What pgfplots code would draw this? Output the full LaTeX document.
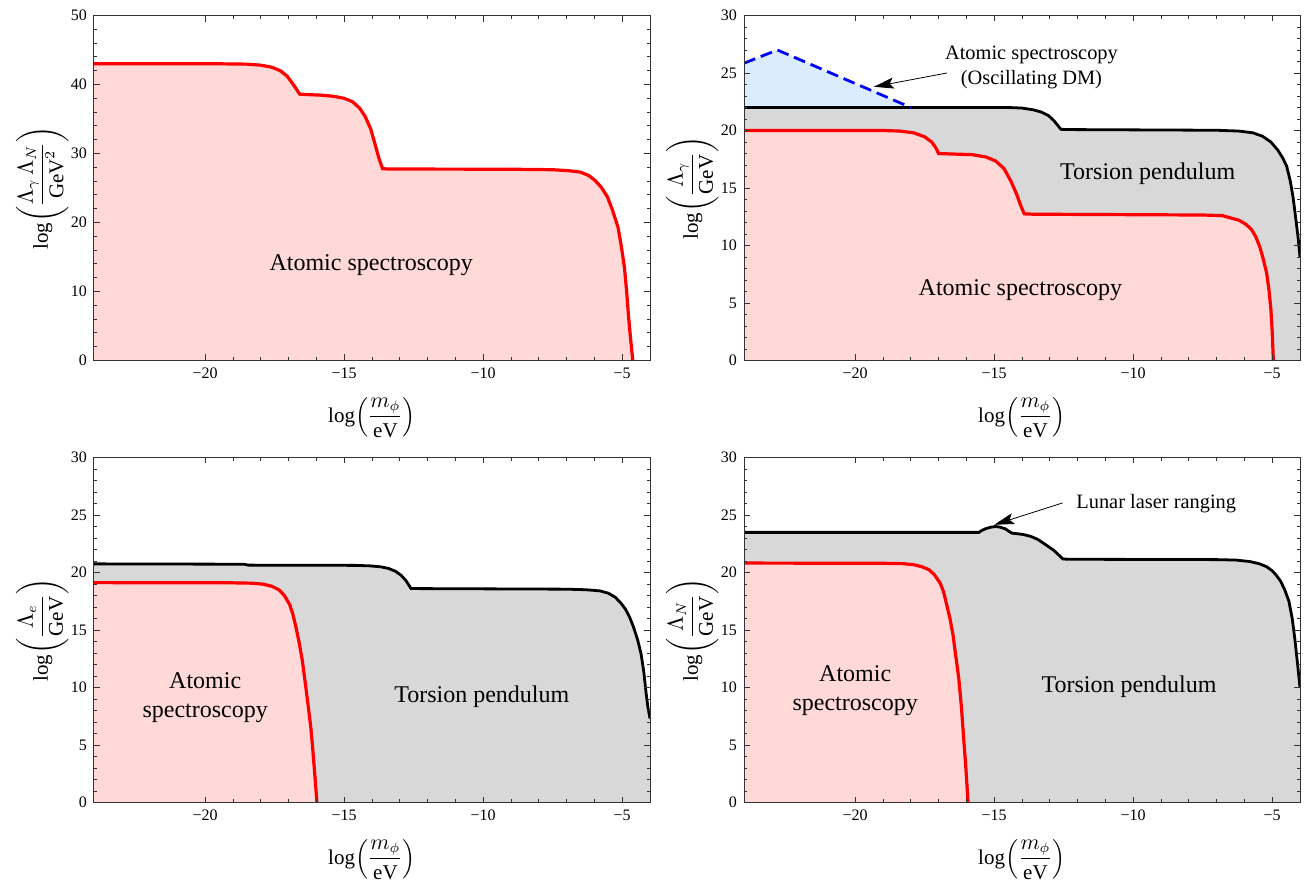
\documentclass[border=0pt]{standalone}
\usepackage{amsmath}
\usepackage{fontspec}
\setmainfont{Liberation Serif}
\usepackage{pgfplots}
\pgfplotsset{compat=1.18}
\usetikzlibrary{arrows.meta}

\definecolor{pinkfill}{RGB}{255,216,216}
\definecolor{grayfill}{RGB}{216,216,216}
\definecolor{bluefill}{RGB}{219,236,255}

\tikzset{
  big/.style={font=\fontsize{12}{14.4}\selectfont, align=center},
  small/.style={font=\fontsize{10.2}{12.6}\selectfont, align=center},
}

\pgfplotsset{
  panel/.style={
    scale only axis, width=278pt, height=172.5pt,
    anchor=south west,
    xmin=-24, xmax=-4, ymin=0,
    xtick={-20,-15,-10,-5}, xticklabels={−20,−15,−10,−5},
    minor x tick num=4, minor y tick num=4,
    tick align=inside, major tick length=3pt, minor tick length=1.6pt,
    tick style={black!80, line width=0.4pt},
    axis line style={black!80, line width=0.5pt},
    ticklabel style={font=\fontsize{8}{9}\selectfont},
    /pgf/number format/assume math mode=true,
    label style={font=\fontsize{10.5}{12}\selectfont, inner sep=0.5pt},
    xlabel={$\mathrm{log}\!\left(\dfrac{m_\phi}{\mathrm{eV}}\right)$},
    xlabel style={at={(axis description cs:0.5,-0.165)}, anchor=center},
    ylabel style={at={(axis description cs:-0.093,0.5)}, anchor=center},
    axis on top,
  },
  redline/.style={red, line width=1.6pt},
  blackline/.style={black, line width=1.4pt},
}

\begin{document}
\begin{tikzpicture}
\path[use as bounding box] (0,0) rectangle (652pt,441pt);

% top left
\begin{axis}[panel, at={(47pt,260.75pt)}, ymax=50, ytick={0,10,...,50},
  ylabel={$\mathrm{log}\!\left(\dfrac{\Lambda_\gamma\,\Lambda_N}{\mathrm{GeV}^2}\right)$}]
  \addplot[fill=pinkfill, draw=none] coordinates {
    (-24,43.0) (-19.5,43.0) (-18.5,42.95) (-18.0,42.8) (-17.6,42.5) (-17.3,42.0)
    (-17.05,41.2) (-16.85,40.1) (-16.7,39.2) (-16.6,38.6) (-16.4,38.55) (-15.8,38.45)
    (-15.4,38.3) (-15.0,38.0) (-14.7,37.5) (-14.45,36.6) (-14.25,35.4) (-14.05,33.6)
    (-13.9,31.5) (-13.75,29.3) (-13.62,27.8) (-13.4,27.75) (-9,27.72) (-7.5,27.65)
    (-6.9,27.5) (-6.5,27.3) (-6.2,26.8) (-5.98,26.1) (-5.75,25.1) (-5.53,23.7)
    (-5.35,21.8) (-5.15,19.3) (-5.03,16.5) (-4.92,13.5) (-4.84,10) (-4.77,6.3)
    (-4.7,3.2) (-4.62,0)} \closedcycle;
  \addplot[redline] coordinates {
    (-24,43.0) (-19.5,43.0) (-18.5,42.95) (-18.0,42.8) (-17.6,42.5) (-17.3,42.0)
    (-17.05,41.2) (-16.85,40.1) (-16.7,39.2) (-16.6,38.6) (-16.4,38.55) (-15.8,38.45)
    (-15.4,38.3) (-15.0,38.0) (-14.7,37.5) (-14.45,36.6) (-14.25,35.4) (-14.05,33.6)
    (-13.9,31.5) (-13.75,29.3) (-13.62,27.8) (-13.4,27.75) (-9,27.72) (-7.5,27.65)
    (-6.9,27.5) (-6.5,27.3) (-6.2,26.8) (-5.98,26.1) (-5.75,25.1) (-5.53,23.7)
    (-5.35,21.8) (-5.15,19.3) (-5.03,16.5) (-4.92,13.5) (-4.84,10) (-4.77,6.3)
    (-4.7,3.2) (-4.62,0)};
  \node[big] at (axis cs:-14.03,13.8) {Atomic spectroscopy};
\end{axis}

% top right
\begin{axis}[panel, at={(372pt,260.75pt)}, ymax=30, ytick={0,5,...,30},
  ylabel={$\mathrm{log}\!\left(\dfrac{\Lambda_\gamma}{\mathrm{GeV}}\right)$}]
  \addplot[fill=bluefill, draw=none] coordinates {
    (-24,25.85) (-22.8,27.0) (-18.0,22.0)} \closedcycle;
  \addplot[fill=grayfill, draw=none] coordinates {
    (-24,22.0) (-14.5,22.0) (-14.0,21.95) (-13.6,21.8) (-13.3,21.6) (-13.05,21.3)
    (-12.85,20.85) (-12.7,20.4) (-12.6,20.1) (-12.3,20.08) (-7,20.02) (-6.2,19.95)
    (-5.7,19.8) (-5.35,19.5) (-5.05,19.0) (-4.8,18.3) (-4.62,17.6) (-4.48,16.9)
    (-4.35,15.6) (-4.25,14.2) (-4.15,12.3) (-4.07,10.7) (-4.0,9.0)} \closedcycle;
  \addplot[fill=pinkfill, draw=none] coordinates {
    (-24,20.0) (-19,20.0) (-18.4,19.95) (-17.9,19.8) (-17.5,19.45) (-17.25,19.0)
    (-17.1,18.5) (-17.0,18.0) (-16.7,17.97) (-15.8,17.9) (-15.3,17.7) (-14.95,17.35)
    (-14.65,16.7) (-14.4,15.6) (-14.2,14.5) (-14.05,13.5) (-13.92,12.75) (-13.6,12.72)
    (-7.5,12.65) (-6.8,12.6) (-6.2,12.2) (-5.95,11.85) (-5.75,11.4) (-5.6,10.8)
    (-5.45,9.9) (-5.32,8.8) (-5.2,7.6) (-5.12,6.2) (-5.05,4.5) (-5.0,2.5) (-4.96,0)} \closedcycle;
  \addplot[blackline] coordinates {
    (-24,22.0) (-14.5,22.0) (-14.0,21.95) (-13.6,21.8) (-13.3,21.6) (-13.05,21.3)
    (-12.85,20.85) (-12.7,20.4) (-12.6,20.1) (-12.3,20.08) (-7,20.02) (-6.2,19.95)
    (-5.7,19.8) (-5.35,19.5) (-5.05,19.0) (-4.8,18.3) (-4.62,17.6) (-4.48,16.9)
    (-4.35,15.6) (-4.25,14.2) (-4.15,12.3) (-4.07,10.7) (-4.0,9.0)};
  \addplot[redline] coordinates {
    (-24,20.0) (-19,20.0) (-18.4,19.95) (-17.9,19.8) (-17.5,19.45) (-17.25,19.0)
    (-17.1,18.5) (-17.0,18.0) (-16.7,17.97) (-15.8,17.9) (-15.3,17.7) (-14.95,17.35)
    (-14.65,16.7) (-14.4,15.6) (-14.2,14.5) (-14.05,13.5) (-13.92,12.75) (-13.6,12.72)
    (-7.5,12.65) (-6.8,12.6) (-6.2,12.2) (-5.95,11.85) (-5.75,11.4) (-5.6,10.8)
    (-5.45,9.9) (-5.32,8.8) (-5.2,7.6) (-5.12,6.2) (-5.05,4.5) (-5.0,2.5) (-4.96,0)};
  \addplot[blue, line width=1.4pt, dash pattern=on 6pt off 3pt] coordinates {
    (-24,25.85) (-22.8,27.0) (-18.0,22.0)};
  \node[big] at (axis cs:-9.48,16.2) {Torsion pendulum};
  \node[big] at (axis cs:-14.06,6.15) {Atomic spectroscopy};
  \node[small] at (axis cs:-13.66,25.5) {Atomic spectroscopy\\(Oscillating DM)};
  \draw[-{Stealth[length=10pt,width=5.5pt,inset=2pt]}, line width=0.4pt]
    (axis cs:-16.7,25.0) -- (axis cs:-19.33,23.8);
\end{axis}

% bottom left
\begin{axis}[panel, at={(47pt,39.75pt)}, ymax=30, ytick={0,5,...,30},
  ylabel={$\mathrm{log}\!\left(\dfrac{\Lambda_e}{\mathrm{GeV}}\right)$}]
  \addplot[fill=grayfill, draw=none] coordinates {
    (-24,20.75) (-18.6,20.72) (-18.45,20.64) (-14.6,20.62) (-14.1,20.58) (-13.7,20.5)
    (-13.4,20.35) (-13.15,20.1) (-12.95,19.75) (-12.78,19.3) (-12.6,18.62) (-12.3,18.6)
    (-7,18.55) (-6.3,18.5) (-5.8,18.4) (-5.5,18.2) (-5.25,17.85) (-5.05,17.35)
    (-4.88,16.8) (-4.74,16.15) (-4.6,15.3) (-4.44,14.1) (-4.32,12.9) (-4.22,11.3)
    (-4.14,9.5) (-4.07,8.2) (-4.0,7.3)} \closedcycle;
  \addplot[fill=pinkfill, draw=none] coordinates {
    (-24,19.12) (-19,19.1) (-18.3,19.07) (-17.9,18.98) (-17.6,18.8) (-17.35,18.5)
    (-17.15,18.0) (-16.96,17.2) (-16.85,16.4) (-16.74,15.3) (-16.62,13.9) (-16.51,12.4)
    (-16.4,10.4) (-16.29,8.3) (-16.2,6.5) (-16.14,4.9) (-16.06,2.5) (-15.98,0)} \closedcycle;
  \addplot[blackline] coordinates {
    (-24,20.75) (-18.6,20.72) (-18.45,20.64) (-14.6,20.62) (-14.1,20.58) (-13.7,20.5)
    (-13.4,20.35) (-13.15,20.1) (-12.95,19.75) (-12.78,19.3) (-12.6,18.62) (-12.3,18.6)
    (-7,18.55) (-6.3,18.5) (-5.8,18.4) (-5.5,18.2) (-5.25,17.85) (-5.05,17.35)
    (-4.88,16.8) (-4.74,16.15) (-4.6,15.3) (-4.44,14.1) (-4.32,12.9) (-4.22,11.3)
    (-4.14,9.5) (-4.07,8.2) (-4.0,7.3)};
  \addplot[redline] coordinates {
    (-24,19.12) (-19,19.1) (-18.3,19.07) (-17.9,18.98) (-17.6,18.8) (-17.35,18.5)
    (-17.15,18.0) (-16.96,17.2) (-16.85,16.4) (-16.74,15.3) (-16.62,13.9) (-16.51,12.4)
    (-16.4,10.4) (-16.29,8.3) (-16.2,6.5) (-16.14,4.9) (-16.06,2.5) (-15.98,0)};
  \node[big] at (axis cs:-20,9.15) {Atomic\\spectroscopy};
  \node[big] at (axis cs:-10.05,9.2) {Torsion pendulum};
\end{axis}

% bottom right
\begin{axis}[panel, at={(372pt,39.75pt)}, ymax=30, ytick={0,5,...,30},
  ylabel={$\mathrm{log}\!\left(\dfrac{\Lambda_N}{\mathrm{GeV}}\right)$}]
  \addplot[fill=grayfill, draw=none] coordinates {
    (-24,23.49) (-15.55,23.49) (-15.45,23.65) (-15.3,23.82) (-15.1,23.95) (-14.95,24.0)
    (-14.8,23.95) (-14.6,23.8) (-14.45,23.55) (-14.36,23.42) (-14.2,23.38) (-13.95,23.3)
    (-13.7,23.15) (-13.45,22.9) (-13.23,22.55) (-13.05,22.25) (-12.87,21.95) (-12.69,21.55)
    (-12.53,21.17) (-12.2,21.15) (-7,21.12) (-6.3,21.08) (-5.8,20.95) (-5.45,20.75)
    (-5.2,20.5) (-5.0,20.15) (-4.85,19.75) (-4.7,19.25) (-4.55,18.5) (-4.4,17.5)
    (-4.28,16.0) (-4.18,14.1) (-4.1,12.3) (-4.0,10.0)} \closedcycle;
  \addplot[fill=pinkfill, draw=none] coordinates {
    (-24,20.82) (-19,20.8) (-18.3,20.77) (-17.9,20.68) (-17.6,20.5) (-17.35,20.25)
    (-17.15,19.8) (-16.94,19.06) (-16.82,18.3) (-16.72,17.3) (-16.6,16.1) (-16.49,14.7)
    (-16.38,12.7) (-16.27,10.7) (-16.18,8.3) (-16.12,6.3) (-16.02,3.0) (-15.94,0)} \closedcycle;
  \addplot[blackline] coordinates {
    (-24,23.49) (-15.55,23.49) (-15.45,23.65) (-15.3,23.82) (-15.1,23.95) (-14.95,24.0)
    (-14.8,23.95) (-14.6,23.8) (-14.45,23.55) (-14.36,23.42) (-14.2,23.38) (-13.95,23.3)
    (-13.7,23.15) (-13.45,22.9) (-13.23,22.55) (-13.05,22.25) (-12.87,21.95) (-12.69,21.55)
    (-12.53,21.17) (-12.2,21.15) (-7,21.12) (-6.3,21.08) (-5.8,20.95) (-5.45,20.75)
    (-5.2,20.5) (-5.0,20.15) (-4.85,19.75) (-4.7,19.25) (-4.55,18.5) (-4.4,17.5)
    (-4.28,16.0) (-4.18,14.1) (-4.1,12.3) (-4.0,10.0)};
  \addplot[redline] coordinates {
    (-24,20.82) (-19,20.8) (-18.3,20.77) (-17.9,20.68) (-17.6,20.5) (-17.35,20.25)
    (-17.15,19.8) (-16.94,19.06) (-16.82,18.3) (-16.72,17.3) (-16.6,16.1) (-16.49,14.7)
    (-16.38,12.7) (-16.27,10.7) (-16.18,8.3) (-16.12,6.3) (-16.02,3.0) (-15.94,0)};
  \node[big] at (axis cs:-20,9.75) {Atomic\\spectroscopy};
  \node[big] at (axis cs:-10.15,10.1) {Torsion pendulum};
  \node[small, anchor=west] at (axis cs:-12.3,26.0) {Lunar laser ranging};
  \draw[-{Stealth[length=10pt,width=5.5pt,inset=2pt]}, line width=0.4pt]
    (axis cs:-12.54,26.05) -- (axis cs:-15.0,24.15);
\end{axis}
\end{tikzpicture}
\end{document}
